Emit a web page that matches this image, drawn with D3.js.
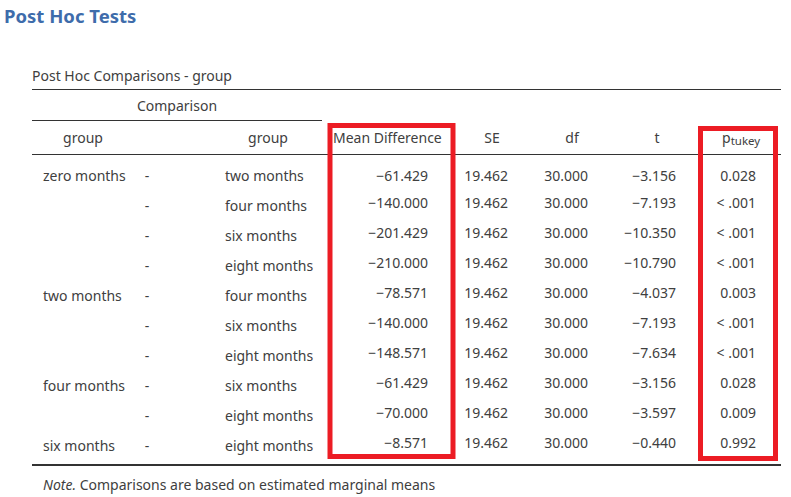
<!DOCTYPE html>
<html lang="en">
  <head>
    <meta charset="utf-8">
    <title>Post Hoc Tests</title>
    <script src="https://d3js.org/d3.v7.min.js"></script>
    <style>
      body { margin: 0; background: #fff; }
      svg { display: block; }
      text { font-family: "Noto Sans", "Open Sans", sans-serif; fill: #404040; }
    </style>
  </head>
  <body>
    <div id="chart"></div>
    <script>

      // table contents
      var groupA = ["zero months", "", "", "", "two months", "", "", "four months", "", "six months"];
      var groupB = ["two months", "four months", "six months", "eight months", "four months", "six months", "eight months", "six months", "eight months", "eight months"];
      var meanDiff = [-61.429, -140.000, -201.429, -210.000, -78.571, -140.000, -148.571, -61.429, -70.000, -8.571];
      var se = [19.462, 19.462, 19.462, 19.462, 19.462, 19.462, 19.462, 19.462, 19.462, 19.462];
      var df = [30, 30, 30, 30, 30, 30, 30, 30, 30, 30];
      var tVals = [-3.156, -7.193, -10.350, -10.790, -4.037, -7.193, -7.634, -3.156, -3.597, -0.440];
      var pTukey = ["0.028", "< .001", "< .001", "< .001", "0.003", "< .001", "< .001", "0.028", "0.009", "0.992"];

      var width = 791;
      var height = 497;
      var left = 32, right = 781;
      var fs = "14px";
      var fmt = d3.format(".3f");

      var svg = d3.select("#chart")
        .append("svg")
        .attr("width", width)
        .attr("height", height);

      svg.append("text")
        .attr("x", 4)
        .attr("y", 23)
        .style("font-size", "18.5px")
        .style("font-weight", "bold")
        .style("fill", "#3e6cab")
        .text("Post Hoc Tests");

      svg.append("text")
        .attr("x", left)
        .attr("y", 81)
        .style("font-size", "14px")
        .text("Post Hoc Comparisons - group");

      // rows
      var rows = d3.range(groupB.length);
      var yScale = d3.scaleBand()
        .domain(rows)
        .range([161, 461]);

      function lineAt(x1, x2, y, w) {
        svg.append("line")
          .attr("x1", x1).attr("x2", x2)
          .attr("y1", y).attr("y2", y)
          .attr("stroke", "#333")
          .attr("stroke-width", w);
      }

      lineAt(left, right, 89.5, 1);
      lineAt(left, 322, 120.5, 1);
      lineAt(left, right, 154.5, 1);
      lineAt(left, right, 465, 2);

      svg.append("text")
        .attr("x", 177).attr("y", 111)
        .attr("text-anchor", "middle")
        .style("font-size", fs)
        .text("Comparison");

      var headers = [
        {label: "group", x: 83, anchor: "middle"},
        {label: "group", x: 268, anchor: "middle"},
        {label: "Mean Difference", x: 333, anchor: "start"},
        {label: "SE", x: 492, anchor: "middle"},
        {label: "df", x: 572, anchor: "middle"},
        {label: "t", x: 657, anchor: "middle"}
      ];

      svg.selectAll(".head")
        .data(headers)
        .enter()
        .append("text")
        .attr("class", "head")
        .attr("x", function(d){return d.x;})
        .attr("y", 143)
        .attr("text-anchor", function(d){return d.anchor;})
        .style("font-size", fs)
        .text(function(d){return d.label;});

      var pHead = svg.append("text")
        .attr("x", 722).attr("y", 143)
        .style("font-size", fs);
      pHead.append("tspan").text("p");
      pHead.append("tspan").attr("dy", 2).style("font-size", "11.5px").text("tukey");

      // columns: text, x, anchor; label columns sit a little lower than numbers
      var columns = [
        {vals: groupA, x: 43, anchor: "start", label: true},
        {vals: rows.map(function(){return "-";}), x: 147, anchor: "middle", label: true},
        {vals: groupB, x: 225, anchor: "start", label: true},
        {vals: meanDiff.map(fmt), x: 428, anchor: "end"},
        {vals: se.map(fmt), x: 508, anchor: "end"},
        {vals: df.map(fmt), x: 588, anchor: "end"},
        {vals: tVals.map(fmt), x: 676, anchor: "end"},
        {vals: pTukey, x: 756, anchor: "end"}
      ];

      columns.forEach(function(col){
        svg.selectAll(null)
          .data(col.vals)
          .enter()
          .append("text")
          .attr("x", col.x)
          .attr("y", function(d, i){
            var base = yScale(i) + yScale.bandwidth()/2 + 5;
            return (col.label || i === 0) ? base : base - 3;
          })
          .attr("text-anchor", col.anchor)
          .style("font-size", fs)
          .text(function(d){return d;});
      });

      // red highlight boxes
      svg.append("rect")
        .attr("x", 330).attr("y", 125.5)
        .attr("width", 123).attr("height", 331)
        .attr("fill", "none")
        .attr("stroke", "#ec1c24")
        .attr("stroke-width", 5);

      svg.append("rect")
        .attr("x", 700.5).attr("y", 128.5)
        .attr("width", 75).attr("height", 330)
        .attr("fill", "none")
        .attr("stroke", "#ec1c24")
        .attr("stroke-width", 5);

      var note = svg.append("text")
        .attr("x", 43).attr("y", 490)
        .style("font-size", fs);
      note.append("tspan").style("font-style", "italic").text("Note.");
      note.append("tspan").text(" Comparisons are based on estimated marginal means");

    </script>
  </body>
</html>
